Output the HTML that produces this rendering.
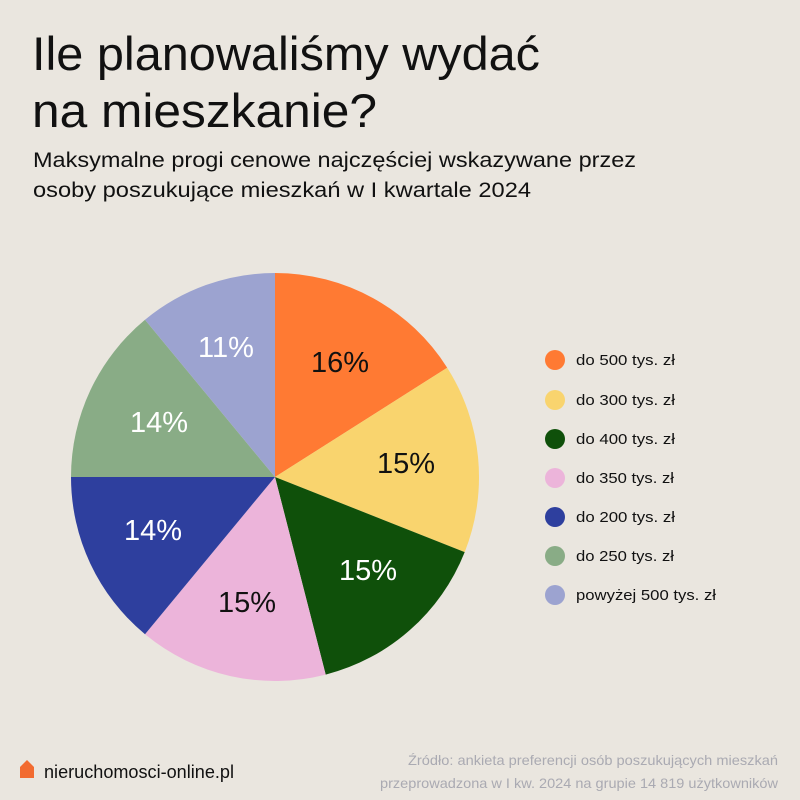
<!DOCTYPE html>
<html><head><meta charset="utf-8"><style>
body{margin:0;width:800px;height:800px;background:#EAE6DF;overflow:hidden;font-family:"Liberation Sans",sans-serif;}
</style></head><body>
<svg width="800" height="800" xmlns="http://www.w3.org/2000/svg" style="position:absolute;left:0;top:0">
<rect width="800" height="800" fill="#EAE6DF"/>
<g font-family="Liberation Sans, sans-serif" fill="#111">
<text x="32" y="70" font-size="47" textLength="508" lengthAdjust="spacingAndGlyphs">Ile planowaliśmy wydać</text>
<text x="32" y="127" font-size="47" textLength="345" lengthAdjust="spacingAndGlyphs">na mieszkanie?</text>
<text x="33" y="167" font-size="21" textLength="603" lengthAdjust="spacingAndGlyphs">Maksymalne progi cenowe najczęściej wskazywane przez</text>
<text x="33" y="197" font-size="21" textLength="498" lengthAdjust="spacingAndGlyphs">osoby poszukujące mieszkań w I kwartale 2024</text>
</g>
<path d="M275,477 L275,273 A204,204 0 0 1 447.2,367.7 Z" fill="#FF7A33"/>
<path d="M275,477 L447.2,367.7 A204,204 0 0 1 464.7,552.1 Z" fill="#F9D46E"/>
<path d="M275,477 L464.7,552.1 A204,204 0 0 1 325.7,674.6 Z" fill="#0F500A"/>
<path d="M275,477 L325.7,674.6 A204,204 0 0 1 145,634.2 Z" fill="#ECB4DA"/>
<path d="M275,477 L145,634.2 A204,204 0 0 1 71,477 Z" fill="#2E3F9E"/>
<path d="M275,477 L71,477 A204,204 0 0 1 145,319.8 Z" fill="#89AC86"/>
<path d="M275,477 L145,319.8 A204,204 0 0 1 275,273 Z" fill="#9CA3D0"/>
<g font-family="Liberation Sans, sans-serif" font-size="29" text-anchor="middle">
<text x="340" y="372" fill="#111">16%</text>
<text x="406" y="473" fill="#111">15%</text>
<text x="368" y="580" fill="#fff">15%</text>
<text x="247" y="612" fill="#111">15%</text>
<text x="153" y="540" fill="#fff">14%</text>
<text x="159" y="432" fill="#fff">14%</text>
<text x="226" y="357" fill="#fff">11%</text>
</g>
<g font-family="Liberation Sans, sans-serif" font-size="15" fill="#111">
<circle cx="555" cy="360" r="10" fill="#FF7A33"/><text x="576" y="365" textLength="99" lengthAdjust="spacingAndGlyphs">do 500 tys. zł</text>
<circle cx="555" cy="400" r="10" fill="#F9D46E"/><text x="576" y="405" textLength="99" lengthAdjust="spacingAndGlyphs">do 300 tys. zł</text>
<circle cx="555" cy="439" r="10" fill="#0F500A"/><text x="576" y="444" textLength="99" lengthAdjust="spacingAndGlyphs">do 400 tys. zł</text>
<circle cx="555" cy="478" r="10" fill="#ECB4DA"/><text x="576" y="483" textLength="98" lengthAdjust="spacingAndGlyphs">do 350 tys. zł</text>
<circle cx="555" cy="517" r="10" fill="#2E3F9E"/><text x="576" y="522" textLength="99" lengthAdjust="spacingAndGlyphs">do 200 tys. zł</text>
<circle cx="555" cy="556" r="10" fill="#89AC86"/><text x="576" y="561" textLength="98" lengthAdjust="spacingAndGlyphs">do 250 tys. zł</text>
<circle cx="555" cy="595" r="10" fill="#9CA3D0"/><text x="576" y="600" textLength="140" lengthAdjust="spacingAndGlyphs">powyżej 500 tys. zł</text>
</g>
<path d="M20,767 L27,760 L34,767 L34,778 L20,778 Z" fill="#F26B30"/>
<text x="44" y="778" font-family="Liberation Sans, sans-serif" font-size="18" fill="#111" textLength="190" lengthAdjust="spacingAndGlyphs">nieruchomosci-online.pl</text>
<g font-family="Liberation Sans, sans-serif" font-size="14" fill="#AAAAB2" text-anchor="end">
<text x="778" y="765" textLength="370" lengthAdjust="spacingAndGlyphs">Źródło: ankieta preferencji osób poszukujących mieszkań</text>
<text x="778" y="788" textLength="398" lengthAdjust="spacingAndGlyphs">przeprowadzona w I kw. 2024 na grupie 14 819 użytkowników</text>
</g>
</svg>
</body></html>
